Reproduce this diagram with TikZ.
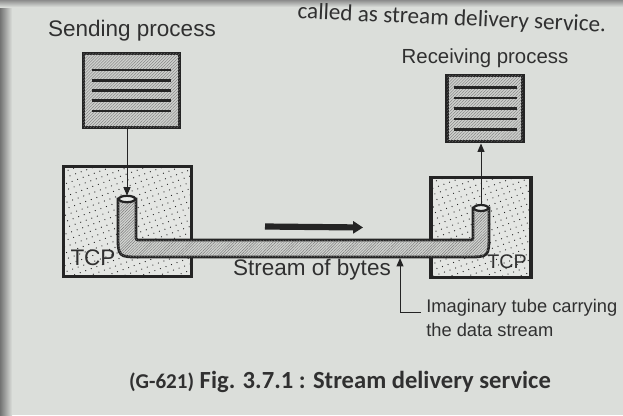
\documentclass[tikz,border=0pt]{standalone}
\usepackage{fontspec}
\setmainfont{Liberation Sans}
\newfontfamily\capfont{Carlito}
\usetikzlibrary{arrows.meta,positioning,calc,patterns.meta}
\definecolor{pagegray}{RGB}{219,222,218}
\definecolor{inkdark}{RGB}{36,36,36}
\definecolor{textdark}{RGB}{48,48,48}
\definecolor{hatchgray}{RGB}{120,120,120}
\definecolor{docfill}{RGB}{205,207,204}
\definecolor{tubefill}{RGB}{210,212,209}
\definecolor{dotfill}{RGB}{228,230,227}

\tikzset{
  procdoc/.style={draw=inkdark,line width=2.8pt,fill=docfill,
    postaction={pattern={Lines[angle=45,distance=1.5pt,line width=0.25pt]},pattern color=hatchgray}},
  docline/.style={inkdark,line width=1.9pt},
  tcpbox/.style={draw=inkdark,line width=2.2pt,fill=dotfill,
    postaction={pattern={Dots[distance=4.2pt,radius=0.45pt,angle=20]},pattern color=inkdark}},
  tubewall/.style={draw=inkdark,line width=2pt,fill=tubefill,
    postaction={pattern={Lines[angle=45,distance=1.4pt,line width=0.3pt]},pattern color=hatchgray}},
  flowarrow/.style={draw=inkdark,line width=0.7pt,-{Triangle[length=6pt,width=5pt]}},
  bigflow/.style={draw=inkdark,line width=4.4pt,-{Triangle[length=7pt,width=8.5pt]}},
  lbl/.style={text=textdark,inner sep=0pt}
}

\begin{document}
\begin{tikzpicture}[x=0.025cm,y=-0.025cm]
  \useasboundingbox (0,0) rectangle (623,415);
  % page of the book
  \fill[pagegray] (0,0) rectangle (623,415);
  \shade[left color=black!55,right color=pagegray] (0,0) rectangle (12,415);
  \shade[top color=black!45,bottom color=pagegray] (0,0) rectangle (623,7);

  \node[lbl,font=\capfont\fontsize{16.5}{19}\selectfont,rotate=-2.5,anchor=base east] (toptxt) at (606,32)
    {called as stream delivery service.};

  % processes
  \node[lbl,font=\fontsize{16}{19}\selectfont] (sendlbl) at (132,31) {Sending process};
  \node[lbl,font=\fontsize{14.5}{17}\selectfont] (recvlbl) at (485,58) {Receiving process};
  \node[procdoc,minimum width=2.4cm,minimum height=1.85cm,inner sep=0pt] (send) at (131.5,90.5) {};
  \node[procdoc,minimum width=1.88cm,minimum height=1.65cm,inner sep=0pt] (recv) at (485,108.5) {};
  \foreach \k in {-2,...,2} {
    \draw[docline] ($(send.west)+(10,\k*10.3)$) -- ($(send.east)+(-10,\k*10.3)$);
    \draw[docline] ($(recv.west)+(9,\k*10.5)$) -- ($(recv.east)+(-8,\k*10.5)$);
  }

  % TCP buffers
  \node[tcpbox,minimum width=3.2cm,minimum height=2.75cm,inner sep=0pt] (tcpL) at (127.5,221.5) {};
  \node[tcpbox,minimum width=2.5cm,minimum height=2.5cm,inner sep=0pt] (tcpR) at (481,227.5) {};
  \node[lbl,font=\fontsize{16}{19}\selectfont] (tcpLtxt) at (93,258) {TCP};
  \node[lbl,font=\fontsize{14}{17}\selectfont] (tcpRtxt) at (507,262) {TCP};

  % the tube
  \filldraw[tubewall] (118,199) -- (118,234) .. controls (118,257) .. (141,257) -- (466,257)
    .. controls (489,257) .. (489,234) -- (489,208) -- (473,208) -- (473,236)
    .. controls (473,240) .. (469,240) -- (140,240) .. controls (136,240) .. (136,236)
    -- (136,199) -- cycle;
  \coordinate (sendmouth) at (127,199);
  \coordinate (recvmouth) at (481,208);
  \filldraw[draw=inkdark,line width=1.6pt,fill=pagegray!60!white] (sendmouth) ellipse [x radius=8.2,y radius=3.2];
  \filldraw[draw=inkdark,line width=1.6pt,fill=pagegray!60!white] (recvmouth) ellipse [x radius=7.2,y radius=3];

  \draw[flowarrow,shorten >=2.4pt] (send.south -| sendmouth) -- (sendmouth);
  \draw[flowarrow,shorten <=2.4pt] (recvmouth) -- (recvmouth |- recv.south);

  \coordinate (flowtail) at (265,226.5);
  \coordinate (flowhead) at (363,227.5);
  \draw[bigflow] (flowtail) -- (flowhead);

  \node[lbl,font=\fontsize{16}{19}\selectfont] (streamlbl) at (312,270) {Stream of bytes};
  \node[lbl,font=\fontsize{13}{17}\selectfont,align=left,anchor=north west] (imag) at (426,299)
    {Imaginary tube carrying\\the data stream};
  \coordinate (tubebelly) at (400,258);
  \draw[flowarrow] ($(imag.north west)+(-5,13)$) -| (tubebelly);

  \node[lbl,font=\capfont\bfseries\fontsize{17.5}{20}\selectfont] (caption) at (340,382)
    {{\fontsize{15}{18}\selectfont(G-621)} Fig. 3.7.1 : Stream delivery service};
\end{tikzpicture}
\end{document}
